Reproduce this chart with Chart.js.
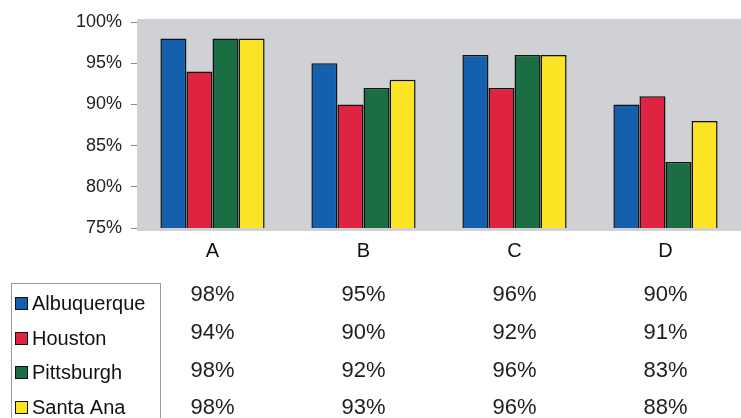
<!DOCTYPE html>
<html>
<head>
<meta charset="utf-8">
<script src="https://cdn.jsdelivr.net/npm/chart.js@4/dist/chart.umd.min.js"></script>
<style>
  html, body { margin: 0; padding: 0; background: #fff; overflow: hidden; }
  #wrap { width: 741px; height: 418px; }
</style>
</head>
<body>
<div id="wrap"><canvas id="chart"></canvas></div>
<script>
const categories = ["A", "B", "C", "D"];
const cities = ["Albuquerque", "Houston", "Pittsburgh", "Santa Ana"];
const albuquerque = [98, 95, 96, 90];
const houston = [94, 90, 92, 91];
const pittsburgh = [98, 92, 96, 83];
const santaAna = [98, 93, 96, 88];
const yTicks = [75, 80, 85, 90, 95, 100];

const colors = ["#1560ae", "#de2440", "#1b6d43", "#fbe423"];
const FONT = '"Liberation Sans", Arial, sans-serif';

// gray plot background, a bit taller than the axis range
const plotBg = {
    id: 'plotBg',
    beforeDraw(chart) {
        const { ctx, chartArea: a } = chart;
        ctx.save();
        ctx.fillStyle = '#cfd1d4';
        ctx.fillRect(a.left, a.top - 3, a.right - a.left, a.bottom - a.top + 6);
        ctx.restore();
    }
};

// data table under the chart, with its legend box
const dataTable = {
    id: 'dataTable',
    afterDraw(chart) {
        const { ctx } = chart;
        const x = chart.scales.x;
        const valueRows = [295, 333, 371, 408];
        const legendRows = [303, 338, 372, 407];
        ctx.save();
        ctx.strokeStyle = '#9a9a9a';
        ctx.lineWidth = 1;
        ctx.strokeRect(11.5, 283.5, 149, 150);

        chart.data.datasets.forEach((ds, i) => {
            let ly = legendRows[i];
            ctx.fillStyle = ds.backgroundColor;
            ctx.fillRect(15, ly - 6, 13, 13);
            ctx.strokeStyle = '#111';
            ctx.strokeRect(15.5, ly - 5.5, 12, 12);
            ctx.fillStyle = '#111';
            ctx.font = '20px ' + FONT;
            ctx.textAlign = 'left';
            ctx.textBaseline = 'middle';
            ctx.fillText(ds.label, 32, ly + 1);

            ctx.font = '22px ' + FONT;
            ctx.textAlign = 'center';
            ctx.fillStyle = '#1e1e1e';
            ds.data.forEach((v, j) => {
                ctx.fillText(v + '%', x.getPixelForValue(j), valueRows[i]);
            });
        });
        ctx.restore();
    }
};

const series = [albuquerque, houston, pittsburgh, santaAna];

new Chart(document.getElementById('chart'), {
    type: 'bar',
    data: {
        labels: categories,
        datasets: series.map((d, i) => ({
            label: cities[i],
            data: d,
            backgroundColor: colors[i],
            borderColor: '#111',
            borderWidth: 1.5,
            borderSkipped: false,
            categoryPercentage: 0.69,
            barPercentage: 1.0,
        }))
    },
    options: {
        responsive: true,
        maintainAspectRatio: false,
        animation: false,
        layout: { padding: { top: 22, left: 0, right: 0, bottom: 0 } },
        scales: {
            x: {
                grid: { display: false, drawTicks: false },
                border: { display: false },
                ticks: { color: '#111', padding: 11, font: { family: FONT, size: 20 } },
                afterFit: s => { s.height = 190; }
            },
            y: {
                min: 75,
                max: 100,
                afterBuildTicks: s => { s.ticks = yTicks.map(v => ({ value: v })); },
                grid: { drawOnChartArea: false, drawTicks: true, tickLength: 6, color: '#8a8a8a' },
                border: { display: false },
                ticks: {
                    color: '#222',
                    padding: 9,
                    font: { family: FONT, size: 18 },
                    callback: v => v + '%'
                },
                afterFit: s => { s.width = 137; }
            }
        },
        plugins: {
            legend: { display: false },
            tooltip: { enabled: false }
        }
    },
    plugins: [plotBg, dataTable]
});
</script>
</body>
</html>
